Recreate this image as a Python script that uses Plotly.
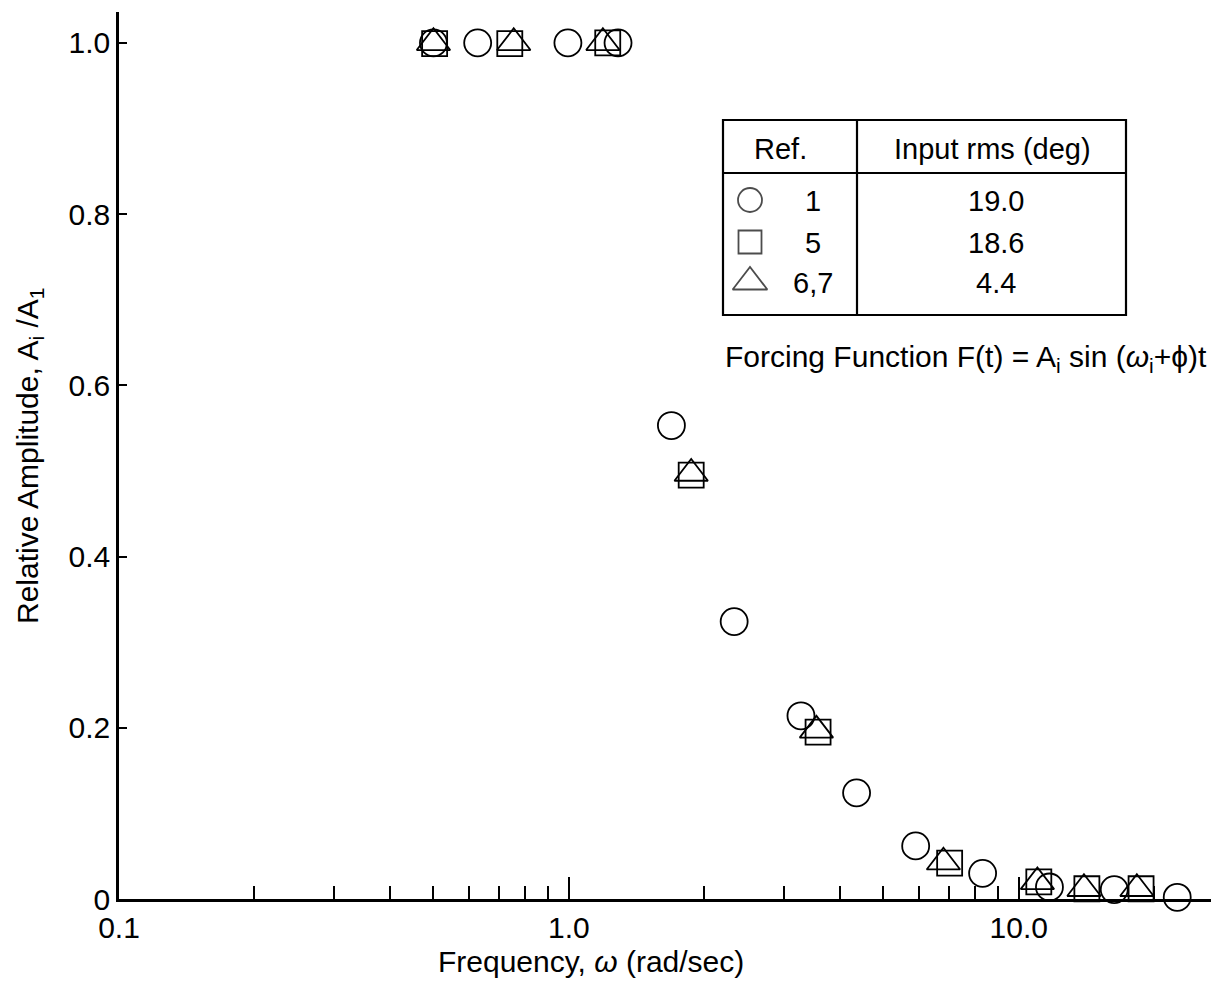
import math
import plotly.graph_objects as go

# ---- data ----
circle_x = [0.50, 0.627, 0.995, 1.286, 1.69, 2.33, 3.28, 4.36, 5.90, 8.31, 11.7, 16.3, 22.5]
circle_y = [1.0, 1.0, 1.0, 1.0, 0.553, 0.324, 0.214, 0.124, 0.062, 0.030, 0.014, 0.011, 0.002]
square_x = [0.503, 0.739, 1.22, 1.87, 3.58, 7.02, 11.08, 14.17, 18.7]
square_y = [0.999, 0.999, 1.0, 0.495, 0.195, 0.042, 0.020, 0.012, 0.012]
tri_x = [0.50, 0.754, 1.19, 1.87, 3.55, 6.80, 11.0, 13.96, 18.3]
tri_y = [1.0, 1.0, 1.0, 0.497, 0.197, 0.043, 0.020, 0.012, 0.012]

x_major = [0.1, 1.0, 10.0]
x_major_text = ["0.1", "1.0", "10.0"]
x_minor = [0.2, 0.3, 0.4, 0.5, 0.6, 0.7, 0.8, 0.9, 2, 3, 4, 5, 6, 7, 8, 9, 20]
y_ticks = [0, 0.2, 0.4, 0.6, 0.8, 1.0]
y_tick_text = ["0", "0.2", "0.4", "0.6", "0.8", "1.0"]

legend_refs = ["1", "5", "6,7"]
legend_rms = ["19.0", "18.6", "4.4"]
legend_symbols = ["circle-open", "square-open", "triangle-up-open"]

FONT = "Liberation Sans, Arial, Helvetica, sans-serif"
BLACK = "black"

fig = go.Figure()

def add_series(x, y, symbol, size, name):
    fig.add_trace(go.Scatter(
        x=x, y=y, mode="markers", name=name, showlegend=False,
        marker=dict(symbol=symbol, size=size, color=BLACK,
                    line=dict(width=1.8, color=BLACK)),
        cliponaxis=False,
    ))

add_series(circle_x, circle_y, "circle-open", 27, "Ref. 1")
add_series(square_x, square_y, "square-open", 25, "Ref. 5")
add_series(tri_x, tri_y, "triangle-up-open", 29, "Ref. 6,7")

# ---- layout geometry (screen pixels of the target picture) ----
OFF = 8                      # page body margin
FW, FH = 1211, 986           # figure size
L, R, T, B = 119, 1215, 12, 899   # plot area on screen

def px(x):
    return (x - L) / (R - L)

def py(y):
    return (B - y) / (B - T)

# legend table symbols
leg_sym_x = [750, 750, 750]
leg_sym_y = [200, 242, 282]
fig.add_trace(go.Scatter(
    x=leg_sym_x, y=leg_sym_y, xaxis="x2", yaxis="y2", mode="markers",
    showlegend=False, cliponaxis=False,
    marker=dict(symbol=legend_symbols, size=[24, 23, 30], color=BLACK,
                line=dict(width=1.8, color=BLACK)),
))

shapes = []
lw = 2.2
tbl = dict(x0=723, x1=1126, y0=120, y1=315)
shapes.append(dict(type="rect", xref="x2", yref="y2", x0=tbl["x0"], x1=tbl["x1"],
                   y0=tbl["y0"], y1=tbl["y1"], line=dict(color=BLACK, width=lw)))
shapes.append(dict(type="line", xref="x2", yref="y2", x0=tbl["x0"], x1=tbl["x1"],
                   y0=173, y1=173, line=dict(color=BLACK, width=lw)))
shapes.append(dict(type="line", xref="x2", yref="y2", x0=857, x1=857,
                   y0=tbl["y0"], y1=tbl["y1"], line=dict(color=BLACK, width=lw)))

annotations = []
def txt(x, y, text, size=30, xanchor="center", angle=0):
    annotations.append(dict(x=px(x), y=py(y), xref="paper", yref="paper", text=text,
                            showarrow=False, xanchor=xanchor, yanchor="middle",
                            textangle=angle,
                            font=dict(family=FONT, size=size, color=BLACK)))

txt(780, 149, "Ref.", 29)
txt(992, 149, "Input rms (deg)", 29)
for i in range(3):
    txt(813, leg_sym_y[i] + 1, legend_refs[i], 29)
    txt(996, leg_sym_y[i] + 1, legend_rms[i], 29)

txt(1209, 358, "Forcing Function F(t) = A<sub>i</sub> sin (<i>ω</i><sub>i</sub>+ϕ)t", 30, xanchor="right")
txt(591, 962, "Frequency, <i>ω</i> (rad/sec)", 30)
txt(29, 456, "Relative Amplitude, A<sub>i</sub> /A<sub>1</sub>", 30, angle=-90)

fig.update_layout(
    width=FW, height=FH, autosize=False,
    margin=dict(l=L - OFF, r=FW - (R - OFF), t=T - OFF, b=FH - (B - OFF), pad=0),
    paper_bgcolor="white", plot_bgcolor="white",
    font=dict(family=FONT, color=BLACK, size=28),
    showlegend=False,
    shapes=shapes, annotations=annotations,
    xaxis=dict(
        type="log", range=[-1, math.log10(27.3)],
        showline=True, linecolor=BLACK, linewidth=2.5,
        showgrid=False, zeroline=False,
        ticks="inside", ticklen=22, tickwidth=1.6, tickcolor=BLACK,
        tickmode="array", tickvals=x_major, ticktext=x_major_text,
        tickfont=dict(size=30, family=FONT, color=BLACK),
        minor=dict(ticks="inside", ticklen=13, tickwidth=1.6, tickcolor=BLACK,
                   tickmode="array", tickvals=x_minor, showgrid=False),
    ),
    yaxis=dict(
        range=[0, 1.036],
        showline=True, linecolor=BLACK, linewidth=2.5,
        showgrid=False, zeroline=False,
        ticks="inside", ticklen=8, tickwidth=1.6, tickcolor=BLACK,
        tickmode="array", tickvals=y_ticks, ticktext=y_tick_text,
        tickfont=dict(size=30, family=FONT, color=BLACK),
        ticklabelstandoff=0,
    ),
    xaxis2=dict(range=[L, R], overlaying="x", anchor="y2", visible=False,
                showgrid=False, zeroline=False),
    yaxis2=dict(range=[B, T], overlaying="y", anchor="x2", visible=False,
                showgrid=False, zeroline=False),
)

fig.write_html("out.html")
